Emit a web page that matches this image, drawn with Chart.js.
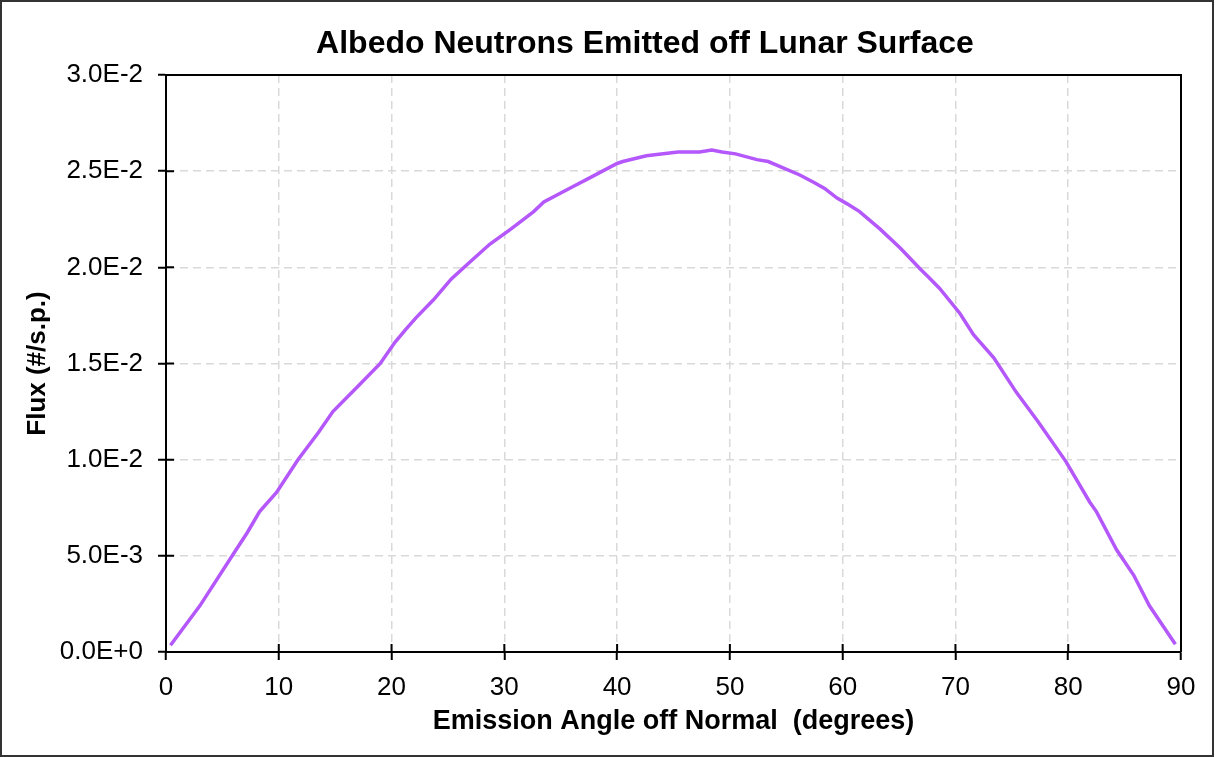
<!DOCTYPE html>
<html><head><meta charset="utf-8">
<script src="https://cdn.jsdelivr.net/npm/chart.js@4/dist/chart.umd.min.js"></script>
<style>html,body{margin:0;padding:0;background:#fff;}#wrap{width:1216px;height:757px;position:relative;}</style>
</head><body><div id="wrap"><canvas id="c"></canvas></div>
<script>
const chartTitle = 'Albedo Neutrons Emitted off Lunar Surface';
const xAxisTitle = 'Emission Angle off Normal  (degrees)';
const yAxisTitle = 'Flux (#/s.p.)';
const angles = [0.4, 3.0, 6.2, 7.2, 8.3, 9.8, 11.7, 13.5, 14.8, 17.0, 19.0, 20.3, 21.3, 22.2, 23.7, 25.3, 27.0, 28.7, 30.6, 32.6, 33.5, 36.1, 37.4, 40.0, 40.5, 42.6, 45.4, 47.3, 48.4, 49.3, 50.5, 52.4, 53.4, 56.2, 57.5, 58.4, 59.5, 60.4, 61.5, 63.3, 65.1, 66.9, 67.6, 68.6, 70.4, 71.6, 73.4, 75.4, 77.3, 79.8, 81.9, 82.5, 84.3, 85.8, 87.2, 89.5];
const flux = [0.00035, 0.0024, 0.0053, 0.0062, 0.0073, 0.0083, 0.0100, 0.0114, 0.0125, 0.0138, 0.0150, 0.0161, 0.0168, 0.0174, 0.0183, 0.0194, 0.0203, 0.0212, 0.0220, 0.0229, 0.0234, 0.0242, 0.0246, 0.0254, 0.0255, 0.0258, 0.0260, 0.0260, 0.0261, 0.0260, 0.0259, 0.0256, 0.0255, 0.0248, 0.0244, 0.0241, 0.0236, 0.0233, 0.0229, 0.0220, 0.0210, 0.0199, 0.0195, 0.0189, 0.0176, 0.0165, 0.0153, 0.0135, 0.0120, 0.0099, 0.0078, 0.0073, 0.0053, 0.0040, 0.0024, 0.0004];
const xRange = [0, 90, 10];
const yRange = [0, 0.03, 0.005];

const FONT = "'Liberation Sans', Arial, Helvetica, sans-serif";

const decor = {
  id: 'decor',
  afterDraw(chart) {
    const {ctx, chartArea: a, scales} = chart;
    ctx.save();
    ctx.strokeStyle = '#000';
    ctx.lineWidth = 2;
    ctx.beginPath();
    ctx.moveTo(a.left, a.top); ctx.lineTo(a.right, a.top); ctx.lineTo(a.right, a.bottom);
    ctx.stroke();
    ctx.beginPath();
    scales.x.ticks.forEach(t => { const p = scales.x.getPixelForValue(t.value); ctx.moveTo(p, a.bottom); ctx.lineTo(p, a.bottom - 8); });
    scales.y.ticks.forEach(t => { const p = scales.y.getPixelForValue(t.value); ctx.moveTo(a.left, p); ctx.lineTo(a.left + 8, p); });
    ctx.stroke();
    ctx.strokeStyle = '#333';
    ctx.lineWidth = 2;
    ctx.strokeRect(1, 1, 1212, 755);
    ctx.fillStyle = '#000';
    ctx.font = 'bold 32px ' + FONT;
    ctx.textAlign = 'center';
    ctx.textBaseline = 'middle';
    ctx.fillText(chartTitle, 645, 44);
    ctx.restore();
  }
};

new Chart(document.getElementById('c'), {
  type: 'line',
  data: {
    datasets: [{
      data: angles.map((a, i) => ({x: a, y: flux[i]})),
      borderColor: '#b457fb',
      borderWidth: 3.5,
      pointRadius: 0,
      tension: 0,
      fill: false
    }]
  },
  options: {
    responsive: true,
    maintainAspectRatio: false,
    animation: false,
    layout: {padding: {top: 75, right: 35, bottom: 0, left: 0}},
    plugins: {legend: {display: false}, tooltip: {enabled: false}, title: {display: false}},
    scales: {
      x: {
        type: 'linear', min: xRange[0], max: xRange[1],
        afterFit(s) { s.height = 105; },
        ticks: {stepSize: xRange[2], color: '#000', padding: 12, maxRotation: 0, font: {family: FONT, size: 26}},
        grid: {color: '#d9d9d9', lineWidth: 1.5, tickLength: 8, tickColor: '#000', tickWidth: 2},
        border: {display: true, color: '#000', width: 2, dash: [8, 5]},
        title: {display: true, text: xAxisTitle, color: '#000', padding: {top: 0, bottom: 19}, font: {family: FONT, size: 27, weight: 'bold'}}
      },
      y: {
        type: 'linear', min: yRange[0], max: yRange[1],
        afterFit(s) { s.width = 166; },
        ticks: {stepSize: yRange[2], color: '#000', padding: 15, font: {family: FONT, size: 26},
          callback: v => Number(v).toExponential(1).toUpperCase()},
        grid: {color: '#d9d9d9', lineWidth: 1.5, tickLength: 8, tickColor: '#000', tickWidth: 2},
        border: {display: true, color: '#000', width: 2, dash: [8, 5]},
        title: {display: true, text: yAxisTitle, color: '#000', padding: {top: 22, bottom: 0}, font: {family: FONT, size: 26, weight: 'bold'}}
      }
    }
  },
  plugins: [decor]
});
</script>
</body></html>
